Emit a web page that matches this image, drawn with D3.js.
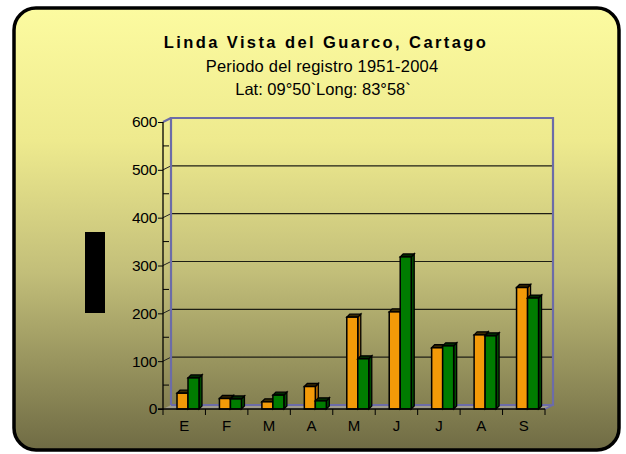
<!DOCTYPE html>
<html>
<head>
<meta charset="utf-8">
<script src="https://cdn.jsdelivr.net/npm/d3@7"></script>
<style>
  body { margin: 0; background: #fff; }
  text { font-family: "Liberation Sans", Arial, sans-serif; }
</style>
</head>
<body>
<div id="chart"></div>
<script>
// monthly rainfall, two series
var meses = ["E", "F", "M", "A", "M", "J", "J", "A", "S"];
var serie1 = [33, 22, 15, 47, 192, 203, 128, 155, 254];   // orange
var serie2 = [65, 21, 29, 17, 105, 318, 132, 153, 232];   // green
var yTicks = [0, 100, 200, 300, 400, 500, 600];
var titulo = "Linda Vista del Guarco, Cartago";
var subtitulo1 = "Periodo del registro 1951-2004";
var subtitulo2 = "Lat: 09°50`Long: 83°58`";

var W = 626, H = 454;
var dx = 8, dy = -4;      // depth of the back wall
var bdx = 3, bdy = -3;    // depth of each bar

var svg = d3.select("#chart").append("svg")
  .attr("width", W).attr("height", H);

var defs = svg.append("defs");
var grad = defs.append("linearGradient").attr("id", "bg")
  .attr("x1", 0).attr("y1", 0).attr("x2", 0).attr("y2", 1);
grad.append("stop").attr("offset", "0%").attr("stop-color", "#fcfba0");
grad.append("stop").attr("offset", "30%").attr("stop-color", "#eeea8e");
grad.append("stop").attr("offset", "60%").attr("stop-color", "#c2be79");
grad.append("stop").attr("offset", "100%").attr("stop-color", "#6f6b44");

// background panel
svg.append("rect")
  .attr("x", 14).attr("y", 8).attr("width", 605).attr("height", 442)
  .attr("rx", 22).attr("ry", 22)
  .style("fill", "url(#bg)").style("stroke", "#000").style("stroke-width", 3.5);

// titles
svg.append("text").attr("x", 326).attr("y", 48).attr("text-anchor", "middle")
  .style("font-size", "16.5px").style("font-weight", "bold").style("letter-spacing", "2.4px")
  .text(titulo);
svg.append("text").attr("x", 322).attr("y", 72).attr("text-anchor", "middle")
  .style("font-size", "16.5px").style("letter-spacing", "0.2px")
  .text(subtitulo1);
svg.append("text").attr("x", 323).attr("y", 95).attr("text-anchor", "middle")
  .style("font-size", "16.5px").style("letter-spacing", "0px")
  .text(subtitulo2);

// y-axis title block (renders as a black box in the original)
svg.append("rect").attr("x", 85).attr("y", 232).attr("width", 20).attr("height", 81)
  .style("fill", "#000");

var x = d3.scaleBand().domain(d3.range(meses.length)).range([163, 545]);
var y = d3.scaleLinear().domain([0, 600]).range([409, 122]);

var x0 = x.range()[0], x1 = x.range()[1];

// floor
svg.append("path")
  .attr("d", "M" + x0 + "," + y(0) + "L" + (x0 + dx) + "," + (y(0) + dy) +
             "L" + (x1 + dx) + "," + (y(0) + dy) + "L" + x1 + "," + y(0) + "Z")
  .style("fill", "#a09c8c").style("stroke", "none");

// back wall gridlines
svg.append("g").selectAll("line")
  .data(yTicks.slice(1, -1))
  .enter().append("line")
  .attr("x1", x0 + dx).attr("x2", x1 + dx)
  .attr("y1", function(d) { return y(d) + dy; })
  .attr("y2", function(d) { return y(d) + dy; })
  .style("stroke", "#1e1e14").style("stroke-width", 1.2);

// diagonal links from axis ticks to wall
svg.append("g").selectAll("line")
  .data(yTicks.slice(1, -1))
  .enter().append("line")
  .attr("x1", x0).attr("x2", x0 + dx)
  .attr("y1", function(d) { return y(d); })
  .attr("y2", function(d) { return y(d) + dy; })
  .style("stroke", "#222").style("stroke-width", 1);

// back wall outline (blue)
svg.append("path")
  .attr("d", "M" + (x0 + dx) + "," + (y(0) + dy) + "L" + (x0 + dx) + "," + (y(600) + dy) +
             "L" + (x1 + dx) + "," + (y(600) + dy) + "L" + (x1 + dx) + "," + (y(0) + dy) +
             "L" + (x0 + dx) + "," + (y(0) + dy))
  .style("fill", "none").style("stroke", "#6c6ca8").style("stroke-width", 2.2);
svg.append("line")
  .attr("x1", x0).attr("y1", y(600)).attr("x2", x0 + dx).attr("y2", y(600) + dy)
  .style("stroke", "#6c6ca8").style("stroke-width", 2.2);
svg.append("line")
  .attr("x1", x1).attr("y1", y(0)).attr("x2", x1 + dx).attr("y2", y(0) + dy)
  .style("stroke", "#6c6ca8").style("stroke-width", 1.5);

// bars
var bw = 11;
function drawBars(vals, off, front, side, top) {
  var g = svg.append("g");
  var b = g.selectAll("g").data(vals).enter().append("g");
  b.append("path")
    .attr("d", function(d, i) {
      var xa = x(i) + off + bw, yt = y(d), yb = y(0);
      return "M" + xa + "," + yb + "L" + xa + "," + yt + "L" + (xa + bdx) + "," + (yt + bdy) +
             "L" + (xa + bdx) + "," + (yb + bdy) + "Z";
    })
    .style("fill", side).style("stroke", "#000").style("stroke-width", 1.3);
  b.append("path")
    .attr("d", function(d, i) {
      var xa = x(i) + off, yt = y(d);
      return "M" + xa + "," + yt + "L" + (xa + bdx) + "," + (yt + bdy) + "L" + (xa + bw + bdx) + "," + (yt + bdy) +
             "L" + (xa + bw) + "," + yt + "Z";
    })
    .style("fill", top).style("stroke", "#000").style("stroke-width", 1.3);
  b.append("rect")
    .attr("x", function(d, i) { return x(i) + off; })
    .attr("y", function(d) { return y(d); })
    .attr("width", bw)
    .attr("height", function(d) { return y(0) - y(d); })
    .style("fill", front).style("stroke", "#000").style("stroke-width", 1.5);
}
drawBars(serie1, 14, "#f39a08", "#b86e00", "#3a2a00");
drawBars(serie2, 25, "#007c00", "#004a00", "#002a00");

// front y axis
svg.append("line").attr("x1", x0).attr("x2", x0).attr("y1", y(600)).attr("y2", y(0) + 1)
  .style("stroke", "#000").style("stroke-width", 1.3);
var yAxis = d3.axisLeft(y).tickValues(yTicks).tickSize(5).tickPadding(1);
var ya = svg.append("g").attr("transform", "translate(" + x0 + ",0)").call(yAxis);
ya.select(".domain").remove();
ya.selectAll("text").style("font-size", "15.5px").style("letter-spacing", "-0.3px")
  .style("fill", "#000").style("font-family", "Liberation Sans, Arial, sans-serif");
ya.selectAll("line").style("stroke", "#000");

// minor ticks every 50 inside
svg.append("g").selectAll("line")
  .data(d3.range(50, 600, 100))
  .enter().append("line")
  .attr("x1", x0).attr("x2", x0 + 6)
  .attr("y1", function(d) { return y(d); })
  .attr("y2", function(d) { return y(d); })
  .style("stroke", "#000").style("stroke-width", 1);

// x axis
svg.append("line").attr("x1", x0 - 5).attr("x2", x1).attr("y1", y(0)).attr("y2", y(0))
  .style("stroke", "#000").style("stroke-width", 1.3);
svg.append("g").selectAll("line")
  .data(d3.range(meses.length + 1))
  .enter().append("line")
  .attr("x1", function(d) { return x0 + d * x.bandwidth(); })
  .attr("x2", function(d) { return x0 + d * x.bandwidth(); })
  .attr("y1", y(0)).attr("y2", y(0) + 6)
  .style("stroke", "#000").style("stroke-width", 1);
svg.append("g").selectAll("text")
  .data(meses)
  .enter().append("text")
  .attr("x", function(d, i) { return x(i) + x.bandwidth() / 2; })
  .attr("y", 431)
  .attr("text-anchor", "middle")
  .style("font-size", "15px")
  .text(function(d) { return d; });
</script>
</body>
</html>
